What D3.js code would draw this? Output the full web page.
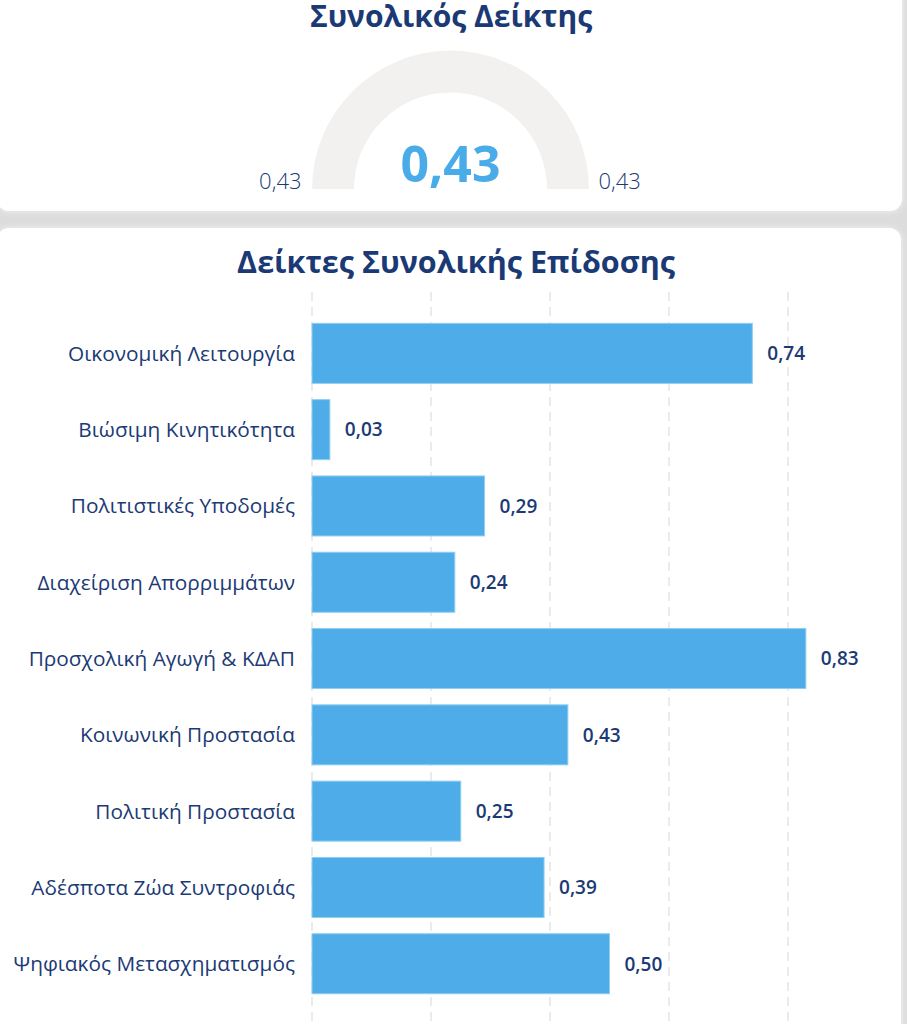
<!DOCTYPE html>
<html>
<head>
<meta charset="utf-8">
<script src="https://cdn.jsdelivr.net/npm/d3@7"></script>
<style>
  html, body { margin: 0; padding: 0; background: #dcdcdc; overflow: hidden; }
  svg { display: block; font-family: "Open Sans", "Noto Sans", sans-serif; }
</style>
</head>
<body>
<svg width="907" height="1024"></svg>
<script>
// gauge values
var gaugeTitle = "Συνολικός Δείκτης";
var gaugeValue = 0.43,
    gaugeMin = 0.43,
    gaugeMax = 0.43;

// bar chart values
var chartTitle = "Δείκτες Συνολικής Επίδοσης";
var categories = [
  "Οικονομική Λειτουργία",
  "Βιώσιμη Κινητικότητα",
  "Πολιτιστικές Υποδομές",
  "Διαχείριση Απορριμμάτων",
  "Προσχολική Αγωγή & ΚΔΑΠ",
  "Κοινωνική Προστασία",
  "Πολιτική Προστασία",
  "Αδέσποτα Ζώα Συντροφιάς",
  "Ψηφιακός Μετασχηματισμός"
];
var scores = [0.74, 0.03, 0.29, 0.24, 0.83, 0.43, 0.25, 0.39, 0.50];
var gridTicks = [0, 0.2, 0.4, 0.6, 0.8, 1.0];

var navy = "#1b3a75",
    barBlue = "#4eace8";

var greek = d3.formatLocale({decimal: ",", thousands: ".", grouping: [3], currency: ["", "€"]});
var fmt = greek.format(".2f");

var svg = d3.select("svg");

// soft edge for the cards
var defs = svg.append("defs");
var f = defs.append("filter").attr("id", "soft")
    .attr("x", "-5%").attr("y", "-5%").attr("width", "110%").attr("height", "110%");
f.append("feGaussianBlur").attr("in", "SourceAlpha").attr("stdDeviation", 3).attr("result", "b");
f.append("feFlood").attr("flood-color", "#f4f4f4").attr("result", "c");
f.append("feComposite").attr("in", "c").attr("in2", "b").attr("operator", "in").attr("result", "s");
var fm = f.append("feMerge");
fm.append("feMergeNode").attr("in", "s");
fm.append("feMergeNode").attr("in", "SourceGraphic");

// ---- top card: gauge ----
svg.append("rect")
    .attr("x", -3).attr("y", -20)
    .attr("width", 905).attr("height", 231)
    .attr("rx", 12)
    .attr("fill", "#fff")
    .attr("filter", "url(#soft)");

svg.append("text")
    .attr("x", 451).attr("y", 27)
    .attr("text-anchor", "middle")
    .style("font-size", "30px").style("font-weight", 700)
    .style("fill", navy)
    .text(gaugeTitle);

var gcx = 450.5, gcy = 189;
var angle = d3.scaleLinear().domain([gaugeMin, gaugeMax]).range([-Math.PI / 2, Math.PI / 2]).clamp(true);
var arc = d3.arc().innerRadius(96.5).outerRadius(138.4);

var g = svg.append("g").attr("transform", "translate(" + gcx + "," + gcy + ")");
g.append("path")
    .attr("d", arc({startAngle: -Math.PI / 2, endAngle: Math.PI / 2}))
    .attr("fill", "#f2f1f0");

// value arc (empty when min == max)
var endA = gaugeMax > gaugeMin ? angle(gaugeValue) : -Math.PI / 2;
g.append("path")
    .attr("d", arc({startAngle: -Math.PI / 2, endAngle: endA}))
    .attr("fill", barBlue);

g.append("text")
    .attr("x", 0).attr("y", -7)
    .attr("text-anchor", "middle")
    .style("font-size", "50px").style("font-weight", 700)
    .style("fill", "#4aabe9")
    .text(fmt(gaugeValue));

g.append("text")
    .attr("x", -149).attr("y", 0)
    .attr("text-anchor", "end")
    .style("font-size", "22px").style("font-weight", 300)
    .style("fill", navy)
    .text(fmt(gaugeMin));

g.append("text")
    .attr("x", 148).attr("y", 0)
    .attr("text-anchor", "start")
    .style("font-size", "22px").style("font-weight", 300)
    .style("fill", navy)
    .text(fmt(gaugeMax));

// ---- bottom card: bar chart ----
svg.append("rect")
    .attr("x", -3).attr("y", 228)
    .attr("width", 904).attr("height", 830)
    .attr("rx", 12)
    .attr("fill", "#fff")
    .attr("filter", "url(#soft)");

defs.append("clipPath").attr("id", "cardClip")
  .append("rect").attr("x", 0).attr("y", 228).attr("width", 899).attr("height", 830);

svg.append("text")
    .attr("x", 456).attr("y", 273)
    .attr("text-anchor", "middle")
    .style("font-size", "30.5px").style("font-weight", 700)
    .style("fill", navy)
    .text(chartTitle);

var x = d3.scaleLinear().domain([0, 1]).range([312, 907]);
var y = d3.scaleBand()
    .domain(categories)
    .range([315.2, 1001.9])
    .paddingInner(0.2136)
    .paddingOuter(0.1068);

// dashed vertical gridlines
svg.append("g")
    .attr("clip-path", "url(#cardClip)")
  .selectAll("line")
  .data(gridTicks)
  .enter().append("line")
    .attr("x1", function(d) { return x(d); })
    .attr("x2", function(d) { return x(d); })
    .attr("y1", 292).attr("y2", 1024)
    .attr("stroke", "#ebebeb")
    .attr("stroke-width", 2)
    .attr("stroke-dasharray", "9,6");

// bars
svg.append("g").selectAll("rect")
  .data(scores)
  .enter().append("rect")
    .attr("x", x(0))
    .attr("y", function(d, i) { return y(categories[i]); })
    .attr("width", function(d) { return x(d) - x(0); })
    .attr("height", y.bandwidth())
    .attr("fill", barBlue)
    .attr("stroke", "#8fcdf2")
    .attr("stroke-width", 1);

// value labels
svg.append("g").selectAll("text")
  .data(scores)
  .enter().append("text")
    .attr("x", function(d) { return x(d) + 15; })
    .attr("y", function(d, i) { return y(categories[i]) + y.bandwidth() / 2; })
    .attr("dy", "0.36em")
    .style("font-size", "19px").style("font-weight", 600)
    .style("fill", navy)
    .text(function(d) { return fmt(d); });

// category labels
svg.append("g").selectAll("text")
  .data(categories)
  .enter().append("text")
    .attr("x", 295)
    .attr("y", function(d) { return y(d) + y.bandwidth() / 2; })
    .attr("dy", "0.36em")
    .attr("text-anchor", "end")
    .style("font-size", "20.8px")
    .style("fill", navy)
    .text(function(d) { return d; });
</script>
</body>
</html>
